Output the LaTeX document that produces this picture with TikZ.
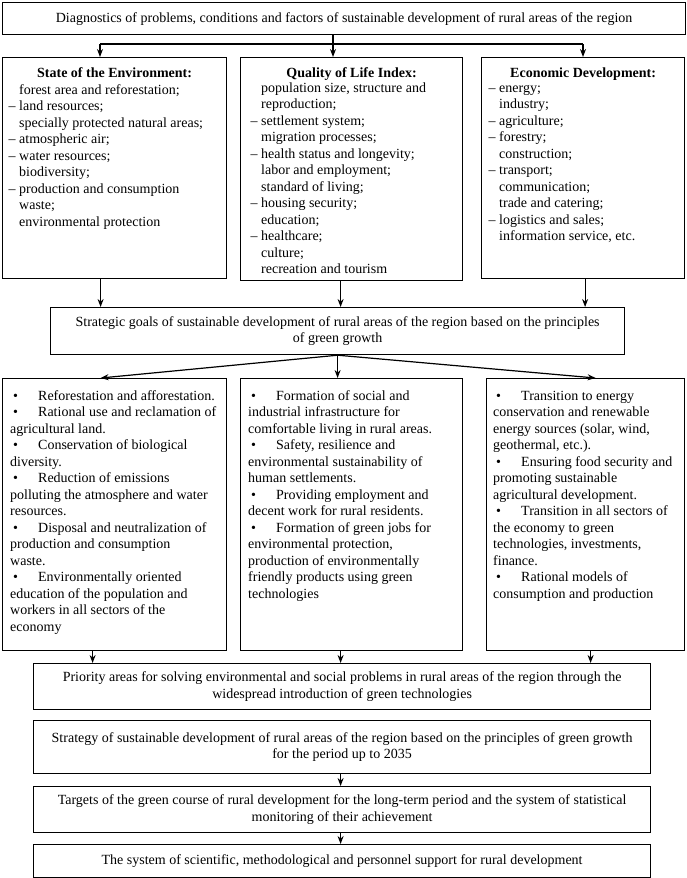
\documentclass[tikz,border=0pt]{standalone}
\usepackage{fontspec}
\setmainfont{Liberation Serif}
\usetikzlibrary{calc,arrows.meta}
\newcommand{\myfs}{\fontsize{14pt}{16.5pt}\selectfont}
\newcommand{\fl}{\rule{0pt}{11pt}}
\newcommand{\dsh}{\llap{–\ }}
\newcommand{\bl}{\makebox[28pt][l]{\hspace{3pt}\textbullet}}
\begin{document}
\begin{tikzpicture}[x=1pt,y=-1pt,
  box/.style={draw, line width=1.2pt, inner sep=0pt, anchor=north west, align=center, font=\myfs},
  txt/.style={inner sep=0pt, font=\myfs, align=left, anchor=north west},
  ttl/.style={inner sep=0pt, font=\myfs\bfseries, anchor=base},
  arr/.style={line width=1.2pt, -{Stealth[length=8pt,width=6pt]}},
  ln/.style={line width=1.2pt}]
\useasboundingbox (0,0) rectangle (687,878);

% top
\node[box, minimum width=683pt, minimum height=32pt] (top) at (2,2)
  {Diagnostics of problems, conditions and factors of sustainable development of rural areas of the region};

% row 1
\node[box, minimum width=224pt, minimum height=221pt] (env) at (2,57) {};
\node[box, minimum width=222pt, minimum height=223pt] (qol) at (240,57) {};
\node[box, minimum width=203pt, minimum height=221pt] (eco) at (481,57) {};

\node[ttl] (envT) at ($(env.north)+(0,20.5)$) {State of the Environment:};
\node[ttl] (qolT) at ($(qol.north)+(0,20.5)$) {Quality of Life Index:};
\node[ttl] (ecoT) at ($(eco.north)+(0,20.5)$) {Economic Development:};

\node[txt] (envL) at ($(env.north west)+(17,26)$) {\fl forest area and reforestation;\\
\dsh land resources;\\
specially protected natural areas;\\
\dsh atmospheric air;\\
\dsh water resources;\\
biodiversity;\\
\dsh production and consumption\\
waste;\\
environmental protection};

\node[txt] (qolL) at ($(qol.north west)+(21,24)$) {\fl population size, structure and\\
reproduction;\\
\dsh settlement system;\\
migration processes;\\
\dsh health status and longevity;\\
labor and employment;\\
standard of living;\\
\dsh housing security;\\
education;\\
\dsh healthcare;\\
culture;\\
recreation and tourism};

\node[txt] (ecoL) at ($(eco.north west)+(18,24)$) {\fl\dsh energy;\\
industry;\\
\dsh agriculture;\\
\dsh forestry;\\
construction;\\
\dsh transport;\\
communication;\\
trade and catering;\\
\dsh logistics and sales;\\
information service, etc.};

% connectors top -> row 1
\coordinate (hc) at (333,44);
\coordinate (hl) at (100,44);
\coordinate (hr) at (583,44);
\draw[ln] (top.south -| hc) -- (hc);
\draw[ln] (hl) -- (hr);
\draw[arr] (hl) -- (hl |- env.north);
\draw[arr] (hc) -- (hc |- qol.north);
\draw[arr] (hr) -- (hr |- eco.north);

% strategic goals
\node[box, minimum width=574pt, minimum height=47pt] (goals) at (50,307)
  {Strategic goals of sustainable development of rural areas of the region based on the principles\\ of green growth};

\draw[arr] ([xshift=-14pt]env.south) -- ([xshift=-14pt]env.south |- goals.north);
\draw[arr] ([xshift=-11pt]qol.south) -- ([xshift=-11pt]qol.south |- goals.north);
\draw[arr] ([xshift=2pt]eco.south) -- ([xshift=2pt]eco.south |- goals.north);

% row 2
\node[box, minimum width=224pt, minimum height=272pt] (r4) at (2,378) {};
\node[box, minimum width=222pt, minimum height=272pt] (r5) at (240,378) {};
\node[box, minimum width=198pt, minimum height=272pt] (r6) at (486,378) {};

\draw[arr] (goals.south) -- ([xshift=-14pt]r4.north);
\draw[arr] (goals.south) -- (goals.south |- r5.north);
\draw[arr] (goals.south) -- ([xshift=10pt]r6.north);

\node[txt] (r4L) at ($(r4.north west)+(8,11)$) {\fl\bl Reforestation and afforestation.\\
\bl Rational use and reclamation of\\
agricultural land.\\
\bl Conservation of biological\\
diversity.\\
\bl Reduction of emissions\\
polluting the atmosphere and water\\
resources.\\
\bl Disposal and neutralization of\\
production and consumption\\
waste.\\
\bl Environmentally oriented\\
education of the population and\\
workers in all sectors of the\\
economy};

\node[txt] (r5L) at ($(r5.north west)+(8,11)$) {\fl\bl Formation of social and\\
industrial infrastructure for\\
comfortable living in rural areas.\\
\bl Safety, resilience and\\
environmental sustainability of\\
human settlements.\\
\bl Providing employment and\\
decent work for rural residents.\\
\bl Formation of green jobs for\\
environmental protection,\\
production of environmentally\\
friendly products using green\\
technologies};

\node[txt] (r6L) at ($(r6.north west)+(7,11)$) {\fl\bl Transition to energy\\
conservation and renewable\\
energy sources (solar, wind,\\
geothermal, etc.).\\
\bl Ensuring food security and\\
promoting sustainable\\
agricultural development.\\
\bl Transition in all sectors of\\
the economy to green\\
technologies, investments,\\
finance.\\
\bl Rational models of\\
consumption and production};

% bottom chain
\node[box, minimum width=617pt, minimum height=46pt] (prio) at (33,663)
  {Priority areas for solving environmental and social problems in rural areas of the region through the\\ widespread introduction of green technologies};
\node[box, minimum width=617pt, minimum height=53pt] (strat) at (33,720)
  {Strategy of sustainable development of rural areas of the region based on the principles of green growth\\ for the period up to 2035};
\node[box, minimum width=617pt, minimum height=46pt] (targ) at (33,786)
  {Targets of the green course of rural development for the long-term period and the system of statistical\\ monitoring of their achievement};
\node[box, minimum width=617pt, minimum height=33pt] (sys) at (33,844)
  {The system of scientific, methodological and personnel support for rural development};

\draw[arr] ([xshift=-22pt]r4.south) -- ([xshift=-22pt]r4.south |- prio.north);
\draw[arr] ([xshift=-11pt]r5.south) -- ([xshift=-11pt]r5.south |- prio.north);
\draw[arr] ([xshift=5pt]r6.south) -- ([xshift=5pt]r6.south |- prio.north);

\draw[arr] (strat.south -| r5.south) ++(-11pt,0) coordinate (s1) -- (s1 |- targ.north);
\draw[arr] (targ.south -| r5.south) ++(-11pt,0) coordinate (s2) -- (s2 |- sys.north);
\end{tikzpicture}
\end{document}
